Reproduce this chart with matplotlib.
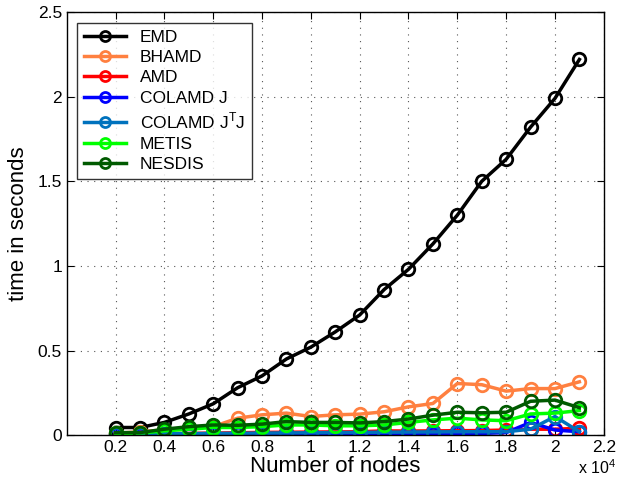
import numpy as np
import matplotlib.pyplot as plt

plt.rcParams['font.family'] = ['Liberation Sans', 'DejaVu Sans']

nodes = [2000, 3000, 4000, 5000, 6000, 7000, 8000, 9000, 10000, 11000,
         12000, 13000, 14000, 15000, 16000, 17000, 18000, 19000, 20000, 21000]

emd = [0.045, 0.045, 0.075, 0.125, 0.185, 0.28, 0.35, 0.45, 0.52, 0.61,
       0.71, 0.86, 0.98, 1.13, 1.30, 1.50, 1.63, 1.82, 1.99, 2.22]
bhamd = [0.01, 0.02, 0.03, 0.04, 0.05, 0.10, 0.12, 0.13, 0.11, 0.12,
         0.124, 0.138, 0.167, 0.187, 0.305, 0.298, 0.26, 0.275, 0.275, 0.315]
amd = [0.005, 0.006, 0.008, 0.01, 0.012, 0.014, 0.016, 0.017, 0.018, 0.019,
       0.02, 0.025, 0.024, 0.025, 0.026, 0.027, 0.03, 0.035, 0.035, 0.04]
colamd_j = [0.002, 0.002, 0.003, 0.003, 0.004, 0.004, 0.005, 0.005, 0.006, 0.006,
            0.007, 0.008, 0.008, 0.009, 0.01, 0.01, 0.015, 0.075, 0.03, 0.02]
colamd_jtj = [0.005, 0.006, 0.008, 0.009, 0.01, 0.011, 0.012, 0.013, 0.014, 0.015,
              0.016, 0.017, 0.018, 0.019, 0.02, 0.02, 0.02, 0.035, 0.11, 0.02]
metis = [0.01, 0.012, 0.025, 0.035, 0.045, 0.045, 0.05, 0.06, 0.06, 0.055,
         0.055, 0.06, 0.075, 0.09, 0.10, 0.09, 0.085, 0.125, 0.13, 0.145]
nesdis = [0.015, 0.015, 0.035, 0.05, 0.06, 0.058, 0.065, 0.08, 0.075, 0.075,
          0.072, 0.08, 0.095, 0.118, 0.135, 0.132, 0.135, 0.2, 0.207, 0.162]

labels = ['EMD', 'BHAMD', 'AMD', 'COLAMD J', r'COLAMD J$^\mathregular{T}$J', 'METIS', 'NESDIS']
colors = ['#000000', '#FF8040', '#FF0000', '#0000FF', '#0072BD', '#00FF00', '#005A00']
series = [emd, bhamd, amd, colamd_j, colamd_jtj, metis, nesdis]

fig = plt.figure(figsize=(6.18, 4.84), dpi=100)
ax = fig.add_axes([0.108, 0.101, 0.869, 0.874])

x = np.array(nodes) / 1e4
for y, c, lab in zip(series, colors, labels):
    ax.plot(x, y, '-o', color=c, lw=2.5, ms=9, mfc='none', mew=2, label=lab)

ax.set_xlim(0, 2.2)
ax.set_ylim(0, 2.5)
ax.set_xticks(np.arange(0.2, 2.21, 0.2))
ax.set_xticklabels(['0.2', '0.4', '0.6', '0.8', '1', '1.2', '1.4', '1.6', '1.8', '2', '2.2'])
ax.set_yticks([0, 0.5, 1, 1.5, 2, 2.5])
ax.set_yticklabels(['0', '0.5', '1', '1.5', '2', '2.5'])
ax.tick_params(direction='in', labelsize=12.5, top=True, right=True, length=5)
ax.grid(True, linestyle=(0, (1, 5)), color='#555555', lw=0.8)
ax.set_xlabel('Number of nodes', fontsize=16, labelpad=1)
ax.set_ylabel('time in seconds', fontsize=16, labelpad=6)
fig.text(0.966, 0.02, r'x 10$^\mathregular{4}$', fontsize=11.5, ha='center')
for s in ax.spines.values():
    s.set_linewidth(1)

leg = ax.legend(loc='upper left', fontsize=12.5, handlelength=2.4, frameon=True,
                fancybox=False, edgecolor='black', borderaxespad=0.6, labelspacing=0.3,
                markerscale=0.8)
leg.get_frame().set_linewidth(1)

fig.savefig('out.png', dpi=100)
